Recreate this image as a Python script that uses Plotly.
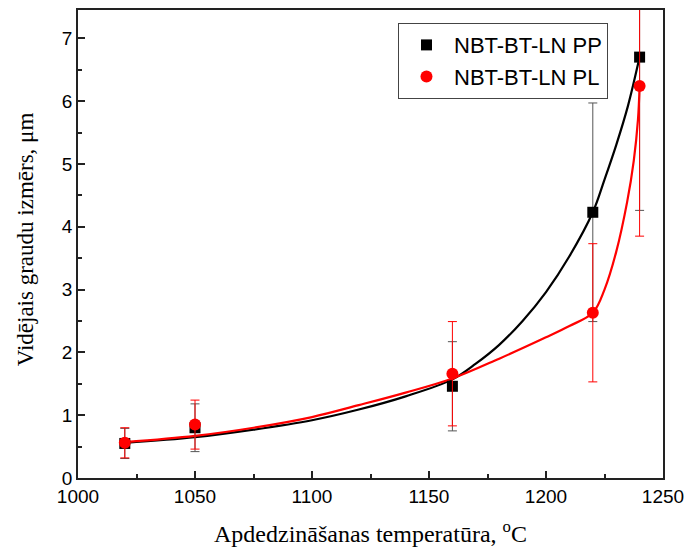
import plotly.graph_objects as go

# Measured data
temps = [1020, 1050, 1160, 1220, 1240]
pp_size = [0.55, 0.80, 1.46, 4.23, 6.70]
pp_err = [0.24, 0.38, 0.71, 1.74, 2.44]
pl_size = [0.56, 0.85, 1.66, 2.63, 6.24]
pl_err = [0.24, 0.39, 0.83, 1.10, 2.39]

# Fit curves
pp_fit_x = [1020, 1050, 1075, 1100, 1120, 1140, 1160, 1170, 1180, 1190, 1200, 1210, 1220, 1225, 1230, 1235, 1240]
pp_fit_y = [0.56, 0.65, 0.77, 0.92, 1.09, 1.30, 1.57, 1.82, 2.12, 2.50, 2.96, 3.53, 4.23, 4.75, 5.30, 5.92, 6.70]
pl_fit_x = [1020, 1050, 1075, 1100, 1120, 1140, 1160, 1180, 1200, 1210, 1220, 1225, 1230, 1234.7, 1237.5, 1239.3, 1240]
pl_fit_y = [0.57, 0.67, 0.80, 0.97, 1.16, 1.36, 1.585, 1.90, 2.24, 2.42, 2.63, 3.00, 3.60, 4.40, 5.05, 5.70, 6.24]

x_ticks = [1000, 1050, 1100, 1150, 1200, 1250]
y_ticks = [0, 1, 2, 3, 4, 5, 6, 7]

fig = go.Figure()

fig.add_trace(go.Scatter(x=pp_fit_x, y=pp_fit_y, mode="lines",
                         line=dict(color="black", width=2.2, shape="spline", smoothing=1.0),
                         showlegend=False, hoverinfo="skip"))
fig.add_trace(go.Scatter(x=pl_fit_x, y=pl_fit_y, mode="lines",
                         line=dict(color="#ff0000", width=2.2, shape="spline", smoothing=1.0),
                         showlegend=False, hoverinfo="skip"))

fig.add_trace(go.Scatter(x=temps, y=pp_size, mode="markers", name="NBT-BT-LN PP",
                         marker=dict(symbol="square", size=11, color="black"),
                         error_y=dict(type="data", array=pp_err, visible=True,
                                      color="#555555", thickness=1, width=4.5)))
fig.add_trace(go.Scatter(x=temps, y=pl_size, mode="markers", name="NBT-BT-LN PL",
                         marker=dict(symbol="circle", size=12, color="#ff0000"),
                         error_y=dict(type="data", array=pl_err, visible=True,
                                      color="#ff0000", thickness=1, width=4.5)))

axis_common = dict(showline=True, linecolor="#222222", linewidth=1.6, mirror=True,
                   ticks="inside", ticklen=7, tickwidth=1.5, tickcolor="#222222",
                   showgrid=False, zeroline=False, automargin=False,
                   tickfont=dict(family="Liberation Sans, Arial", size=19, color="black"))

fig.update_xaxes(range=[1000, 1250], tickvals=x_ticks,
                 minor=dict(dtick=25, ticks="inside", ticklen=4, tickwidth=1.5, tickcolor="#222222"),
                 **axis_common)
fig.update_yaxes(range=[0, 7.45], tickvals=y_ticks,
                 minor=dict(dtick=0.5, ticks="inside", ticklen=4, tickwidth=1.5, tickcolor="#222222"),
                 **axis_common)

fig.add_annotation(text="Apdedzināšanas temperatūra, <sup>o</sup>C",
                   xref="paper", yref="paper", x=0.5, y=-0.116,
                   xanchor="center", yanchor="middle", showarrow=False,
                   font=dict(family="Liberation Serif, Times New Roman", size=24, color="black"))

fig.add_annotation(text="Vidējais graudu izmērs, μm", textangle=-90,
                   xref="paper", yref="paper", x=-0.0906, y=0.51,
                   xanchor="center", yanchor="middle", showarrow=False,
                   font=dict(family="Liberation Serif, Times New Roman", size=23, color="black"))

fig.update_layout(
    width=686, height=551,
    margin=dict(l=78, r=23, t=10, b=73),
    paper_bgcolor="white", plot_bgcolor="white",
    legend=dict(x=0.547, y=0.972, xanchor="left", yanchor="top",
                bgcolor="white", bordercolor="#444444", borderwidth=1,
                font=dict(family="Liberation Sans, Arial", size=22, color="black"),
                itemwidth=45, tracegroupgap=0),
    showlegend=True,
)

fig.write_html("out.html")
